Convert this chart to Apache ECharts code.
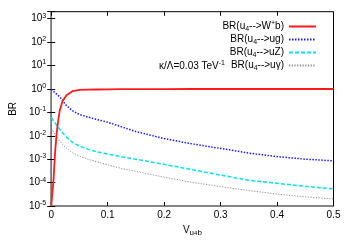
<!DOCTYPE html>
<html>
<head>
<meta charset="utf-8">
<script src="https://cdn.jsdelivr.net/npm/echarts@6/dist/echarts.min.js"></script>
<style>
html,body{margin:0;padding:0;background:#fff;}
#chart{width:350px;height:245px;}
</style>
</head>
<body>
<div id="chart"></div>
<script>
// V_{u4b} values
var vub = [0, 0.004, 0.007, 0.01, 0.0125, 0.015, 0.02, 0.027, 0.038, 0.05, 0.065, 0.08, 0.1, 0.125, 0.15, 0.2, 0.25, 0.3, 0.35, 0.4, 0.45, 0.5];
// BR(u4 -> W+ b)
var brWb = [1e-5, 1.3e-4, 2.3e-3, 0.016, 0.047, 0.12, 0.30, 0.54, 0.81, 0.92, 0.94, 0.95, 0.96, 0.975, 0.983, 0.992, 0.995, 0.997, 0.998, 0.9985, 0.999, 0.999];
// BR(u4 -> u g)
var brUg = [0.955, 0.785, 0.676, 0.589, 0.513, 0.457, 0.324, 0.195, 0.115, 0.0813, 0.0631, 0.0501, 0.0380, 0.0240, 0.0151, 0.00759, 0.00447, 0.00288, 0.00182, 0.00129, 0.00100, 0.000851];
// BR(u4 -> u Z)
var brUZ = [0.0603, 0.0437, 0.0355, 0.0269, 0.0229, 0.0191, 0.0135, 0.00891, 0.00513, 0.00363, 0.00269, 0.00209, 0.00166, 0.00126, 0.00100, 0.000603, 0.000355, 0.000209, 0.000126, 0.0000933, 0.0000692, 0.0000537];
// BR(u4 -> u gamma)
var brUa = [0.0204, 0.0148, 0.0115, 0.00891, 0.00724, 0.00603, 0.00427, 0.00295, 0.00186, 0.00135, 0.00100, 0.000776, 0.000575, 0.000398, 0.000302, 0.000170, 0.000102, 0.0000676, 0.0000457, 0.0000324, 0.0000245, 0.0000200];

var seriesNames = ['Wb', 'ug', 'uZ', 'ua'];
var legendRich = {
  'Wb': '{t|BR(u}{sb|4}{t|-->W}{sp|+}{t|b)}',
  'ug': '{t|BR(u}{sb|4}{t|-->ug)}',
  'uZ': '{t|BR(u}{sb|4}{t|-->uZ)}',
  'ua': '{t|BR(u}{sb|4}{t|-->u\u03b3)}'
};
var xTicks = [0, 0.1, 0.2, 0.3, 0.4, 0.5];

function pairs(ys) { return vub.map(function (x, i) { return [x, ys[i]]; }); }

var FONT = 'Liberation Sans, Arial, sans-serif';
var richText = {
  t: {fontSize: 10, fontFamily: FONT, color: '#000', lineHeight: 13, verticalAlign: 'middle'},
  sb: {fontSize: 7, fontFamily: FONT, color: '#000', lineHeight: 7, verticalAlign: 'bottom'},
  sp: {fontSize: 7, fontFamily: FONT, color: '#000', lineHeight: 7, verticalAlign: 'top'}
};

var chart = echarts.init(document.getElementById('chart'), null, {renderer: 'canvas'});
chart.setOption({
  animation: false,
  backgroundColor: '#fff',
  grid: {left: 44.5, right: 16.5, top: 11.7, bottom: 39, show: true, borderColor: '#000', borderWidth: 1, containLabel: false},
  xAxis: [{
    type: 'value', min: 0, max: 0.5, interval: 0.1, position: 'bottom',
    axisLine: {show: true, onZero: false, lineStyle: {color: '#888', width: 1.5}},
    axisTick: {show: true, inside: true, length: 4, lineStyle: {color: '#000'}},
    splitLine: {show: false},
    axisLabel: {margin: 4, fontSize: 10, fontFamily: FONT, color: '#000'},
    name: '{t|V}{sb|u}{ss|4}{sb|b}', nameLocation: 'middle', nameGap: 16,
    nameTextStyle: {rich: {
      t: {fontSize: 10, fontFamily: FONT, color: '#000', lineHeight: 13, verticalAlign: 'middle'},
      sb: {fontSize: 8, fontFamily: FONT, color: '#000', lineHeight: 8, verticalAlign: 'bottom'},
      ss: {fontSize: 6, fontFamily: FONT, color: '#000', lineHeight: 4, verticalAlign: 'bottom'}
    }}
  }, {
    type: 'value', min: 0, max: 0.5, interval: 0.1, position: 'top',
    axisLine: {show: false},
    axisTick: {show: true, inside: true, length: 4, lineStyle: {color: '#000'}},
    splitLine: {show: false}, axisLabel: {show: false}
  }],
  yAxis: [{
    type: 'log', logBase: 10, min: 1e-5, max: 2000, position: 'left',
    axisLine: {show: true, lineStyle: {color: '#888', width: 1.5}},
    axisTick: {show: true, inside: true, length: 4, lineStyle: {color: '#000'}},
    splitLine: {show: false},
    axisLabel: {
      margin: 5, fontFamily: FONT,
      formatter: function (v) {
        var l = Math.log10(v), e = Math.round(l);
        if (Math.abs(l - e) > 0.01) return '';
        return '{b|10}{s|' + e + '}';
      },
      rich: {
        b: {fontSize: 10, fontFamily: FONT, color: '#000', lineHeight: 13, verticalAlign: 'middle'},
        s: {fontSize: 7, fontFamily: FONT, color: '#000', lineHeight: 7, verticalAlign: 'top'}
      }
    },
    name: 'BR', nameLocation: 'middle', nameGap: 30, nameRotate: 90,
    nameTextStyle: {fontSize: 10, fontFamily: FONT, color: '#000'}
  }, {
    type: 'log', logBase: 10, min: 1e-5, max: 2000, position: 'right',
    axisLine: {show: false},
    axisTick: {show: true, inside: true, length: 4, lineStyle: {color: '#000'}},
    splitLine: {show: false}, axisLabel: {show: false}
  }],
  legend: {
    orient: 'vertical', right: 28, top: 15, align: 'right',
    itemWidth: 27, itemHeight: 10, itemGap: 1.5,
    itemStyle: {opacity: 0, borderWidth: 0},
    data: seriesNames,
    formatter: function (n) { return legendRich[n]; },
    textStyle: {rich: richText, fontFamily: FONT, fontSize: 10, color: '#000'}
  },
  graphic: [{
    type: 'text', left: 159, top: 60,
    style: {
      text: '{t|\u03ba/\u039b=0.03 TeV}{sp|-1}',
      rich: richText
    }
  }],
  series: [{
    name: 'Wb', type: 'line', data: pairs(brWb), showSymbol: false, symbol: 'none',
    lineStyle: {color: '#ff1a1a', width: 1.8, type: 'solid'}, itemStyle: {color: '#ff1a1a'}, z: 5
  }, {
    name: 'ug', type: 'line', data: pairs(brUg), showSymbol: false, symbol: 'none',
    lineStyle: {color: '#1a1aff', width: 1.5, type: [1.5, 1.5]}, itemStyle: {color: '#1a1aff'}, z: 4
  }, {
    name: 'uZ', type: 'line', data: pairs(brUZ), showSymbol: false, symbol: 'none',
    lineStyle: {color: '#00e5ee', width: 1.5, type: [4, 2]}, itemStyle: {color: '#00e5ee'}, z: 3
  }, {
    name: 'ua', type: 'line', data: pairs(brUa), showSymbol: false, symbol: 'none',
    lineStyle: {color: '#8c8c8c', width: 1, type: [1.2, 1.5]}, itemStyle: {color: '#8c8c8c'}, z: 2
  }]
});
</script>
</body>
</html>
